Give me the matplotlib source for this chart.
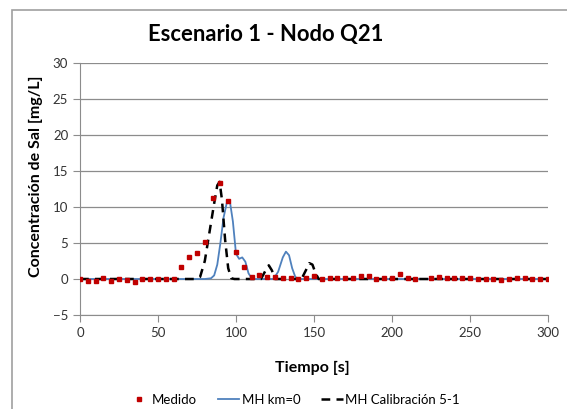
import matplotlib
matplotlib.use("Agg")
import matplotlib.pyplot as plt
from matplotlib.patches import Rectangle

plt.rcParams['font.family'] = ['Lato', 'DejaVu Sans']

# measured points (every 5 s, 220 s missing)
t_medido = [0, 5, 10, 15, 20, 25, 30, 35, 40, 45, 50, 55, 60, 65, 70, 75, 80,
            85, 90, 95, 100, 105, 110, 115, 120, 125, 130, 135, 140, 145, 150,
            155, 160, 165, 170, 175, 180, 185, 190, 195, 200, 205, 210, 215,
            225, 230, 235, 240, 245, 250, 255, 260, 265, 270, 275, 280, 285,
            290, 295, 300]
c_medido = [0.0, -0.3, -0.3, 0.1, -0.3, 0.0, -0.2, -0.4, 0.0, 0.0, 0.0, 0.0,
            0.0, 1.6, 3.0, 3.6, 5.2, 11.2, 13.3, 10.9, 3.8, 1.7, 0.3, 0.6, 0.3,
            0.3, 0.2, 0.2, 0.0, 0.2, 0.4, 0.0, 0.1, 0.1, 0.1, 0.1, 0.4, 0.35,
            0.0, 0.2, 0.2, 0.7, 0.2, 0.0, 0.2, 0.3, 0.1, 0.1, 0.2, 0.1, 0.0,
            0.0, 0.0, -0.1, 0.0, 0.1, 0.1, 0.0, 0.0, 0.0]

# model km=0
t_km0 = [0, 80, 84, 86, 88, 90, 92, 94, 96, 98, 100, 102, 104, 106, 108, 110,
         112, 124, 127, 130, 132, 134, 136, 138, 140, 300]
c_km0 = [0, 0, 0.1, 0.5, 2.0, 5.0, 8.5, 10.5, 10.9, 8.0, 3.5, 2.8, 3.0, 2.4,
         0.8, 0.1, 0, 0, 1.0, 3.0, 3.8, 3.3, 1.5, 0.3, 0, 0]

# model calibracion 5-1
t_cal = [0, 74, 77, 80, 83, 86, 88, 89.5, 91, 93, 95, 97, 99, 116, 119, 121,
         123, 125, 142, 145, 147, 149, 151, 153, 300]
c_cal = [0, 0, 0.3, 2.5, 6.5, 10.5, 13.0, 13.5, 11.0, 5.5, 1.5, 0.1, 0, 0,
         1.2, 1.9, 1.2, 0, 0, 1.3, 2.2, 2.0, 0.8, 0, 0]

fig = plt.figure(figsize=(5.67, 4.09), dpi=100)
ax = fig.add_axes([80/567, 1-315/409, 468/567, 252/409])

# chart border
fig.patches.append(Rectangle((12/567, -0.05), 1.0, 1-10/409+0.05,
                             transform=fig.transFigure, fill=False,
                             edgecolor='#a0a0a0', lw=1.2))

ax.plot(t_cal, c_cal, color='black', lw=1.8, dashes=(3.5, 2.5),
        label='MH Calibración 5-1', zorder=3)
ax.plot(t_km0, c_km0, color='#4F81BD', lw=1.3, label='MH km=0', zorder=2)
ax.plot(t_medido, c_medido, ls='none', marker='s', ms=3.5, color='#C00000',
        label='Medido', zorder=4)

ax.set_xlim(0, 300)
ax.set_ylim(-5, 30)
ax.set_xticks(range(0, 301, 50))
ax.set_yticks(range(-5, 31, 5))
ax.grid(axis='y', color='#8c8c8c', lw=0.9)
ax.set_axisbelow(True)
for s in ['top', 'right']:
    ax.spines[s].set_visible(False)
for s in ['left', 'bottom']:
    ax.spines[s].set_color('#8c8c8c')
ax.tick_params(colors='#8c8c8c', labelcolor='#333333', labelsize=9.5,
               length=5, direction='out')

fig.text(266/567, 1-35/409, 'Escenario 1 - Nodo Q21', ha='center',
         va='center', fontsize=15.8, fontweight='bold')
fig.text(312/567, 1-368/409, 'Tiempo [s]', ha='center', va='center',
         fontsize=11.5, fontweight='bold')
fig.text(36/567, 1-176/409, 'Concentración de Sal [mg/L]', ha='center',
         va='center', rotation=90, fontsize=11.5, fontweight='bold')

h, l = ax.get_legend_handles_labels()
order = [2, 1, 0]
fig.legend([h[i] for i in order], [l[i] for i in order], loc='center',
           bbox_to_anchor=(294/567, 1-400/409), ncol=3, frameon=False,
           fontsize=9.5, handlelength=1.6, columnspacing=1.6,
           handletextpad=0.2)

fig.savefig('out.png', dpi=100)
